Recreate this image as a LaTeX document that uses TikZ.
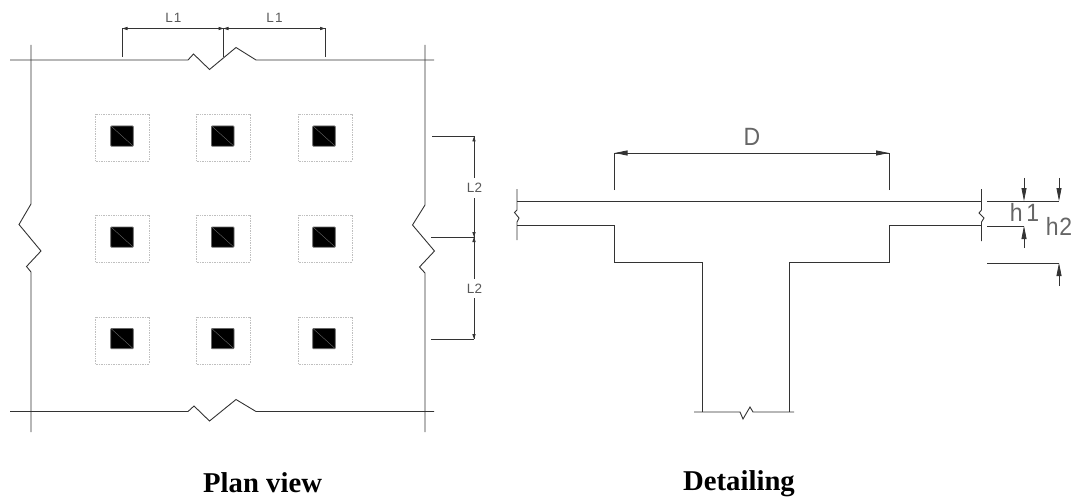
\documentclass[tikz,border=0pt]{standalone}
\usepackage{fontspec}
\setmainfont{Liberation Serif}
\newfontfamily\cadfont{Liberation Sans}
\usetikzlibrary{arrows.meta}
\definecolor{ink}{gray}{0.2}
\tikzset{
  x=1pt,y=-1pt,
  ln/.style={draw=ink,line width=0.9pt,line join=miter},
  dimline/.style={draw=ink,line width=0.8pt},
  tinytip/.style={-{Triangle[length=5pt,width=3.2pt]}},
  bigtip/.style={-{Triangle[length=13pt,width=5pt]}},
  dropzone/.style={draw=black!25,line width=0.7pt,densely dotted},
  colhead/.style={fill=black,draw=black!60,line width=0.8pt,rounded corners=0.8pt},
  diag/.style={draw=black!55,line width=0.35pt},
  smalltxt/.style={font=\cadfont\fontsize{13.5}{15}\selectfont,text=black!65,inner sep=0.5pt},
  largetxt/.style={font=\cadfont\fontsize{25}{28}\selectfont,text=black!60,inner sep=0pt,xscale=0.92},
  caption/.style={font=\bfseries\fontsize{28.7}{32}\selectfont,text=black,inner sep=0pt,anchor=base west}
}
\begin{document}
\begin{tikzpicture}
\useasboundingbox (0,0) rectangle (1075,497);
% plan outline
\draw[ln] (10,60) -- (188,60) -- (193.5,54) -- (209.5,69.5) -- (236,47.5) -- (256,60) -- (434,60);
\draw[ln] (10,411.5) -- (188,411.5) -- (194,406) -- (209.5,421) -- (236,399.5) -- (256,411.5) -- (434,411.5);
\draw[ln] (31,45) -- (31,204) -- (19,224.5) -- (41,251) -- (26.5,266.5) -- (31,272) -- (31,432);
\draw[ln] (425,45) -- (425,205) -- (412.5,225) -- (434.5,251) -- (419.5,267) -- (425,273) -- (425,432);
% columns and drop panels
\foreach \cx/\bx in {122/122,223/222.7,325/324}{
  \foreach \ry/\by in {137.5/136,238.5/237,340.5/338.5}{
    \draw[dropzone] (\cx-27,\ry-23.5) rectangle (\cx+27,\ry+23.5);
    \draw[colhead] (\bx-11.3,\by-10) rectangle (\bx+11.3,\by+10.2);
    \draw[diag] (\bx-10.5,\by-9.5) -- (\bx+10.5,\by+9.5);
  }
}
% L1 dimension
\coordinate (a1) at (122.5,57);
\coordinate (a2) at (122.5,28.5);
\coordinate (a3) at (223.5,28.5);
\coordinate (a4) at (223.5,57);
\coordinate (a5) at (325,28.5);
\coordinate (a6) at (325,57);
\draw[dimline] (a1) -- (a2);
\draw[dimline] (a4) -- (a3);
\draw[dimline] (a6) -- (a5);
\draw[dimline,tinytip] (a3) -- (a2);
\draw[dimline,tinytip] (a3) -- (a5);
\draw[dimline,tinytip] (a5) -- (a3);
\draw[dimline,tinytip] (a2) -- (a3);
\node[smalltxt] (l1a) at (173.5,18) {L\kern1pt 1};
\node[smalltxt] (l1b) at (274.5,18) {L\kern1pt 1};
% L2 dimension
\coordinate (b1) at (432,136.5);
\coordinate (b2) at (474,136.5);
\coordinate (b3) at (431,237);
\coordinate (b4) at (474,237);
\coordinate (b5) at (431,339);
\coordinate (b6) at (474,339);
\draw[dimline] (b1) -- (b2);
\draw[dimline] (b3) -- (b4);
\draw[dimline] (b5) -- (b6);
\draw[dimline,tinytip] (b4) -- (b2);
\draw[dimline,tinytip] (b2) -- (b4);
\draw[dimline,tinytip] (b4) -- (b6);
\draw[dimline,tinytip] (b6) -- (b4);
\node[smalltxt,fill=white,inner ysep=5pt] (l2a) at (474.5,188) {L2};
\node[smalltxt,fill=white,inner ysep=5pt] (l2b) at (474.5,288.5) {L2};
% section
\draw[ln] (517,201) -- (981.5,201);
\draw[ln] (517,225) -- (614.5,225) -- (614.5,262) -- (702,262) -- (702,412);
\draw[ln] (981.5,225) -- (889,225) -- (889,262) -- (789,262) -- (789,412);
\draw[ln] (694,412) -- (740,412) -- (743,419) -- (750,407) -- (753,412) -- (794,412);
\draw[ln] (517,189) -- (517,210) -- (514.5,212.5) -- (519,218) -- (517,222) -- (517,240);
\draw[ln] (981.5,189) -- (981.5,210) -- (979,213) -- (984,218) -- (981.5,222) -- (981.5,241);
% D dimension
\coordinate (d1) at (614.5,190);
\coordinate (d2) at (614.5,153);
\coordinate (d3) at (889,153);
\coordinate (d4) at (889,190);
\draw[dimline] (d1) -- (d2);
\draw[dimline] (d4) -- (d3);
\draw[dimline,bigtip] (d3) -- (d2);
\draw[dimline,bigtip] (d2) -- (d3);
\node[largetxt] (dl) at (752,137) {D};
% h1, h2 dimensions
\coordinate (h1) at (987,201);
\coordinate (h2) at (1059,201);
\coordinate (h3) at (987,226);
\coordinate (h4) at (1024,226);
\coordinate (h5) at (987,263);
\coordinate (h6) at (1059,263);
\coordinate (ha) at (1024,178);
\coordinate (hb) at (1024,201);
\coordinate (hc) at (1024,248);
\coordinate (hd) at (1059,178);
\coordinate (he) at (1059,286);
\draw[dimline] (h1) -- (h2);
\draw[dimline] (h3) -- (h4);
\draw[dimline] (h5) -- (h6);
\draw[dimline,bigtip] (ha) -- (hb);
\draw[dimline,bigtip] (hc) -- (h4);
\draw[dimline,bigtip] (hd) -- (h2);
\draw[dimline,bigtip] (he) -- (h6);
\node[largetxt] (th1) at (1024.5,212.5) {h\kern4pt 1};
\node[largetxt] (th2) at (1059,226.5) {h\kern1pt 2};
% captions
\node[caption] (cap1) at (203,492) {Plan view};
\node[caption] (cap2) at (683,490) {Detailing};
\end{tikzpicture}
\end{document}
